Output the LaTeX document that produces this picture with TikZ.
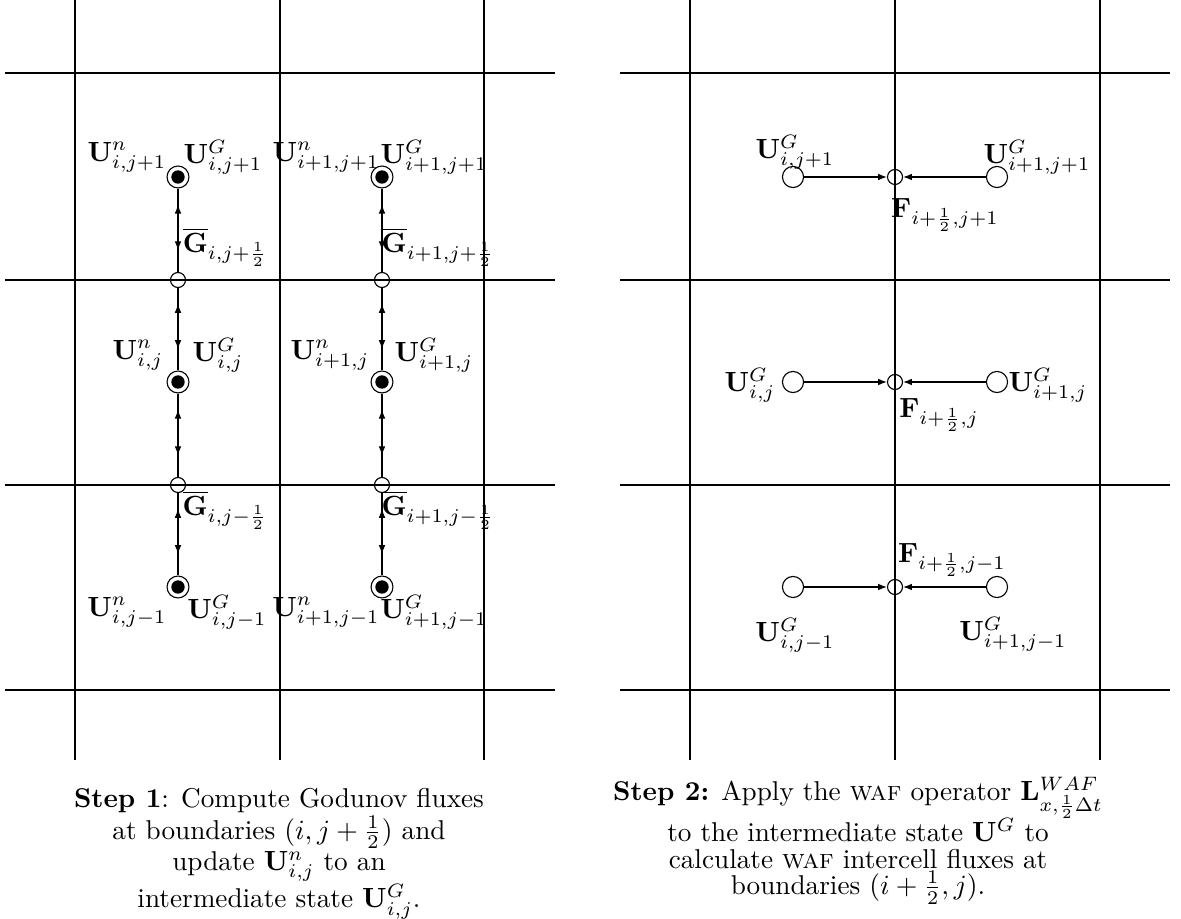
\documentclass[tikz,border=0pt]{standalone}
\usetikzlibrary{arrows.meta,decorations.markings}
\begin{document}
\begin{tikzpicture}[x=0.36pt,y=-0.36pt,
  gridline/.style={line width=0.45pt},
  cellpt/.style={circle,draw,line width=0.4pt,minimum size=7.9pt,inner sep=0pt,
    path picture={\fill (path picture bounding box.center) circle (2.4pt);}},
  facept/.style={circle,draw,line width=0.4pt,minimum size=5.4pt,inner sep=0pt},
  bigpt/.style={circle,draw,line width=0.4pt,minimum size=7.6pt,inner sep=0pt},
  lab/.style={inner sep=0pt,font=\fontsize{10}{12}\selectfont},
  flux/.style={line width=0.4pt,postaction={decorate},decoration={markings,
    mark=at position 0.30 with {\arrow{Latex[length=3.2pt,width=2.4pt,reversed]}},
    mark=at position 0.74 with {\arrow{Latex[length=3.2pt,width=2.4pt]}}}},
  feedarrow/.style={line width=0.4pt,-{Latex[length=3.2pt,width=2.4pt]}},
  captext/.style={align=center,inner sep=0pt,font=\fontsize{9.8}{9.5}\selectfont}]
\useasboundingbox (0,0) rectangle (1181,919);
% left grid
\foreach \x in {75,280,484} \draw[gridline] (\x,0) -- (\x,760);
\foreach \y in {73,280,485,690} \draw[gridline] (5,\y) -- (555,\y);
% right grid
\foreach \x in {690,895,1100} \draw[gridline] (\x,0) -- (\x,760);
\foreach \y in {73,280,485,690} \draw[gridline] (620,\y) -- (1170,\y);
% left panel nodes
\node[cellpt] (c11) at (178,177) {};
\node[cellpt] (c12) at (178,382) {};
\node[cellpt] (c13) at (178,587) {};
\node[cellpt] (c21) at (382,177) {};
\node[cellpt] (c22) at (382,382) {};
\node[cellpt] (c23) at (382,587) {};
\node[facept] (f11) at (178,280) {};
\node[facept] (f12) at (178,485) {};
\node[facept] (f21) at (382,280) {};
\node[facept] (f22) at (382,485) {};
\draw[flux] (c11) -- (f11);
\draw[flux] (f11) -- (c12);
\draw[flux] (c12) -- (f12);
\draw[flux] (f12) -- (c13);
\draw[flux] (c21) -- (f21);
\draw[flux] (f21) -- (c22);
\draw[flux] (c22) -- (f22);
\draw[flux] (f22) -- (c23);
% left labels
\node[lab] (ln1) at (127,157) {$\mathbf{U}^n_{i,j+1}$};
\node[lab] (lg1) at (223,157) {$\mathbf{U}^G_{i,j+1}$};
\node[lab] (ln2) at (326,157) {$\mathbf{U}^n_{i+1,j+1}$};
\node[lab] (lg2) at (434,157) {$\mathbf{U}^G_{i+1,j+1}$};
\node[lab] (gg1) at (225,247) {$\overline{\mathbf{G}}_{i,j+\frac{1}{2}}$};
\node[lab] (gg2) at (438,247) {$\overline{\mathbf{G}}_{i+1,j+\frac{1}{2}}$};
\node[lab] (ln3) at (138,355) {$\mathbf{U}^n_{i,j}$};
\node[lab] (lg3) at (218,355) {$\mathbf{U}^G_{i,j}$};
\node[lab] (ln4) at (330,355) {$\mathbf{U}^n_{i+1,j}$};
\node[lab] (lg4) at (434,355) {$\mathbf{U}^G_{i+1,j}$};
\node[lab] (gg3) at (225,510) {$\overline{\mathbf{G}}_{i,j-\frac{1}{2}}$};
\node[lab] (gg4) at (438,510) {$\overline{\mathbf{G}}_{i+1,j-\frac{1}{2}}$};
\node[lab] (ln5) at (127,612) {$\mathbf{U}^n_{i,j-1}$};
\node[lab] (lg5) at (227,612) {$\mathbf{U}^G_{i,j-1}$};
\node[lab] (ln6) at (326,612) {$\mathbf{U}^n_{i+1,j-1}$};
\node[lab] (lg6) at (434,612) {$\mathbf{U}^G_{i+1,j-1}$};
% right panel nodes
\foreach \r/\y in {1/177,2/382,3/587}{
  \node[bigpt] (bl\r) at (793,\y) {};
  \node[bigpt] (br\r) at (997,\y) {};
  \node[facept] (fm\r) at (895,\y) {};
  \draw[feedarrow] (bl\r) -- (fm\r);
  \draw[feedarrow] (br\r) -- (fm\r);
}
\node[lab] (rl1) at (795,152) {$\mathbf{U}^G_{i,j+1}$};
\node[lab] (rr1) at (1037,157) {$\mathbf{U}^G_{i+1,j+1}$};
\node[lab] (rf1) at (945,215) {$\mathbf{F}_{i+\frac{1}{2},j+1}$};
\node[lab] (rl2) at (750,385) {$\mathbf{U}^G_{i,j}$};
\node[lab] (rr2) at (1048,385) {$\mathbf{U}^G_{i+1,j}$};
\node[lab] (rf2) at (939,415) {$\mathbf{F}_{i+\frac{1}{2},j}$};
\node[lab] (rf3) at (952,560) {$\mathbf{F}_{i+\frac{1}{2},j-1}$};
\node[lab] (rl3) at (795,635) {$\mathbf{U}^G_{i,j-1}$};
\node[lab] (rr3) at (1013,634) {$\mathbf{U}^G_{i+1,j-1}$};
% captions
\node[captext,anchor=north] (cap1) at (279,788) {\textbf{Step 1}: Compute Godunov fluxes\\
  at boundaries $(i,j+\frac{1}{2})$ and\\
  update $\mathbf{U}^n_{i,j}$ to an\\
  intermediate state $\mathbf{U}^G_{i,j}$.};
\node[captext,anchor=north] (cap2) at (858,777) {\textbf{Step 2:} Apply the \textsc{waf} operator $\mathbf{L}^{WAF}_{x,\frac{1}{2}\Delta t}$\\[-1pt]
  to the intermediate state $\mathbf{U}^G$ to\\
  calculate \textsc{waf} intercell fluxes at\\
  boundaries $(i+\frac{1}{2},j)$.};
\end{tikzpicture}
\end{document}
